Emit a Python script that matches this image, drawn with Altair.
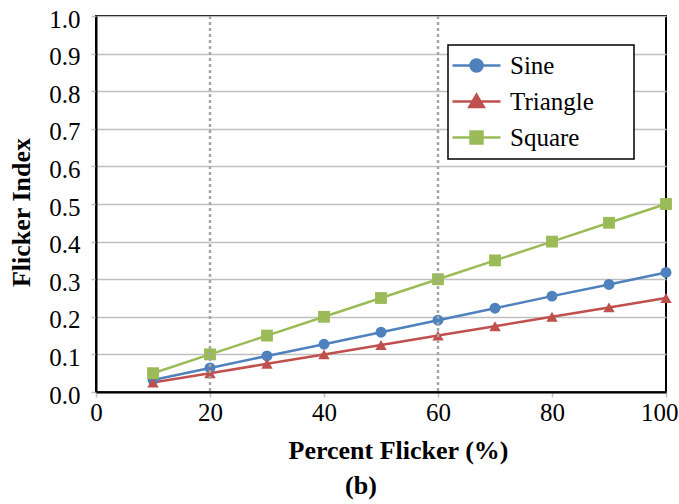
import altair as alt
import pandas as pd

# ---------------- data ----------------
pct = [10, 20, 30, 40, 50, 60, 70, 80, 90, 100]
sine = [0.032, 0.064, 0.096, 0.127, 0.159, 0.191, 0.223, 0.255, 0.286, 0.318]
triangle = [0.025, 0.050, 0.075, 0.100, 0.125, 0.150, 0.175, 0.200, 0.225, 0.250]
square = [0.05, 0.10, 0.15, 0.20, 0.25, 0.30, 0.35, 0.40, 0.45, 0.50]

series_names = ["Sine", "Triangle", "Square"]
series_colors = ["#4F81BD", "#C0504D", "#9BBB59"]
marker_shapes = ["circle", "triangle-up", "square"]
marker_sizes = [120, 140, 150]
# legend symbols: a line with the marker in the middle
legend_paths = [
    "M-8,0 L8,0 M-2,0 A2,2 0 1,0 2,0 A2,2 0 1,0 -2,0 Z",
    "M-8,0 L8,0 M0,-2.3 L2.4,1.8 L-2.4,1.8 Z",
    "M-8,0 L8,0 M-2,-2 L2,-2 L2,2 L-2,2 Z",
]
dotted_x = [20, 60]
x_ticks = [0, 20, 40, 60, 80, 100]
y_ticks = [0.0, 0.1, 0.2, 0.3, 0.4, 0.5, 0.6, 0.7, 0.8, 0.9, 1.0]

rows = []
for name, vals in zip(series_names, [sine, triangle, square]):
    for p, v in zip(pct, vals):
        rows.append({"pct": p, "value": v, "series": name})
df = pd.DataFrame(rows)
rules_df = pd.DataFrame({"pct": dotted_x})

FONT = "Liberation Serif"

x_enc = alt.X(
    "pct:Q",
    scale=alt.Scale(domain=[0, 100], nice=False),
    axis=alt.Axis(
        values=x_ticks,
        title="Percent Flicker (%)",
        grid=False,
        labelFont=FONT, labelFontSize=25, labelColor="black",
        labelPadding=3,
        labelAlign={"condition": {"test": "datum.value == 100", "value": "right"}, "value": "center"},
        labelOffset={"condition": {"test": "datum.value == 100", "value": 12}, "value": 0},
        tickSize=5, tickColor="#BFBFBF", tickWidth=1.5,
        domainColor="black", domainWidth=2,
        titleFont=FONT, titleFontSize=26, titleFontWeight="bold", titleColor="black",
        titleX=302, titleY=58, titleAlign="center", titleBaseline="middle",
    ),
)
y_enc = alt.Y(
    "value:Q",
    scale=alt.Scale(domain=[0, 1], nice=False),
    axis=alt.Axis(
        values=y_ticks,
        format=".1f",
        title="Flicker Index",
        grid=True, gridColor="#BFBFBF", gridWidth=1.5,
        labelFont=FONT, labelFontSize=25, labelColor="black",
        labelPadding=11, labelOffset=3,
        tickSize=5, tickColor="#BFBFBF", tickWidth=1.5,
        domainColor="black", domainWidth=2,
        titleFont=FONT, titleFontSize=26, titleFontWeight="bold", titleColor="black",
        titleX=-75, titleY=196, titleAngle=270, titleAlign="center", titleBaseline="middle",
    ),
)

color_enc = alt.Color(
    "series:N",
    scale=alt.Scale(domain=series_names, range=series_colors),
    legend=None,
)

lines = alt.Chart(df).mark_line(strokeWidth=2.5).encode(
    x=x_enc, y=y_enc, color=color_enc, detail="series:N"
)

points = alt.Chart(df).mark_point(filled=True, opacity=1).encode(
    x=x_enc,
    y=y_enc,
    color=color_enc,
    shape=alt.Shape("series:N", scale=alt.Scale(domain=series_names, range=marker_shapes), legend=None),
    size=alt.Size("series:N", scale=alt.Scale(domain=series_names, range=marker_sizes), legend=None),
)

rules = alt.Chart(rules_df).mark_rule(
    color="#A6A6A6", strokeWidth=2.5, strokeDash=[3, 3]
).encode(x=x_enc)

leg = alt.Legend(
    title=None,
    orient="none",
    legendX=352,
    legendY=29,
    padding=8,
    rowPadding=10,
    fillColor="white",
    strokeColor="black",
    symbolSize=36,
    symbolStrokeWidth=2.5,
    symbolOffset=8,
    labelOffset=21,
    labelFont=FONT,
    labelFontSize=25,
    labelColor="black",
    labelLimit=0,
    labelExpr="datum.label + '\u00a0\u00a0\u00a0\u00a0\u00a0\u200b'",
)

legend_layer = alt.Chart(df).transform_filter("datum.pct < 0").mark_point(
    filled=True, opacity=1, strokeWidth=2.5
).encode(
    x=x_enc,
    y=y_enc,
    fill=alt.Fill("series:N", scale=alt.Scale(domain=series_names, range=series_colors), legend=leg),
    stroke=alt.Stroke("series:N", scale=alt.Scale(domain=series_names, range=series_colors), legend=leg),
    shape=alt.Shape("series:N", scale=alt.Scale(domain=series_names, range=legend_paths), legend=leg),
)

chart = (
    alt.layer(lines, points, rules, legend_layer)
    .resolve_scale(shape="independent", fill="independent", stroke="independent")
    .properties(
        width=570,
        height=376,
        autosize=alt.AutoSizeParams(type="none"),
        padding={"left": 96, "top": 16, "right": 13, "bottom": 112},
        background="white",
        title=alt.TitleParams(
            "(b)", orient="bottom", anchor="middle", dx=-20, offset=10,
            font=FONT, fontSize=26, fontWeight="bold", color="black",
        ),
    )
    .configure(font=FONT)
    .configure_axis(labelFont=FONT, titleFont=FONT)
    .configure_legend(strokeWidth=1.5, labelFont=FONT)
    .configure_view(stroke="black", strokeWidth=2)
)

chart.save("out.html", embed_options={"renderer": "svg", "actions": False})
